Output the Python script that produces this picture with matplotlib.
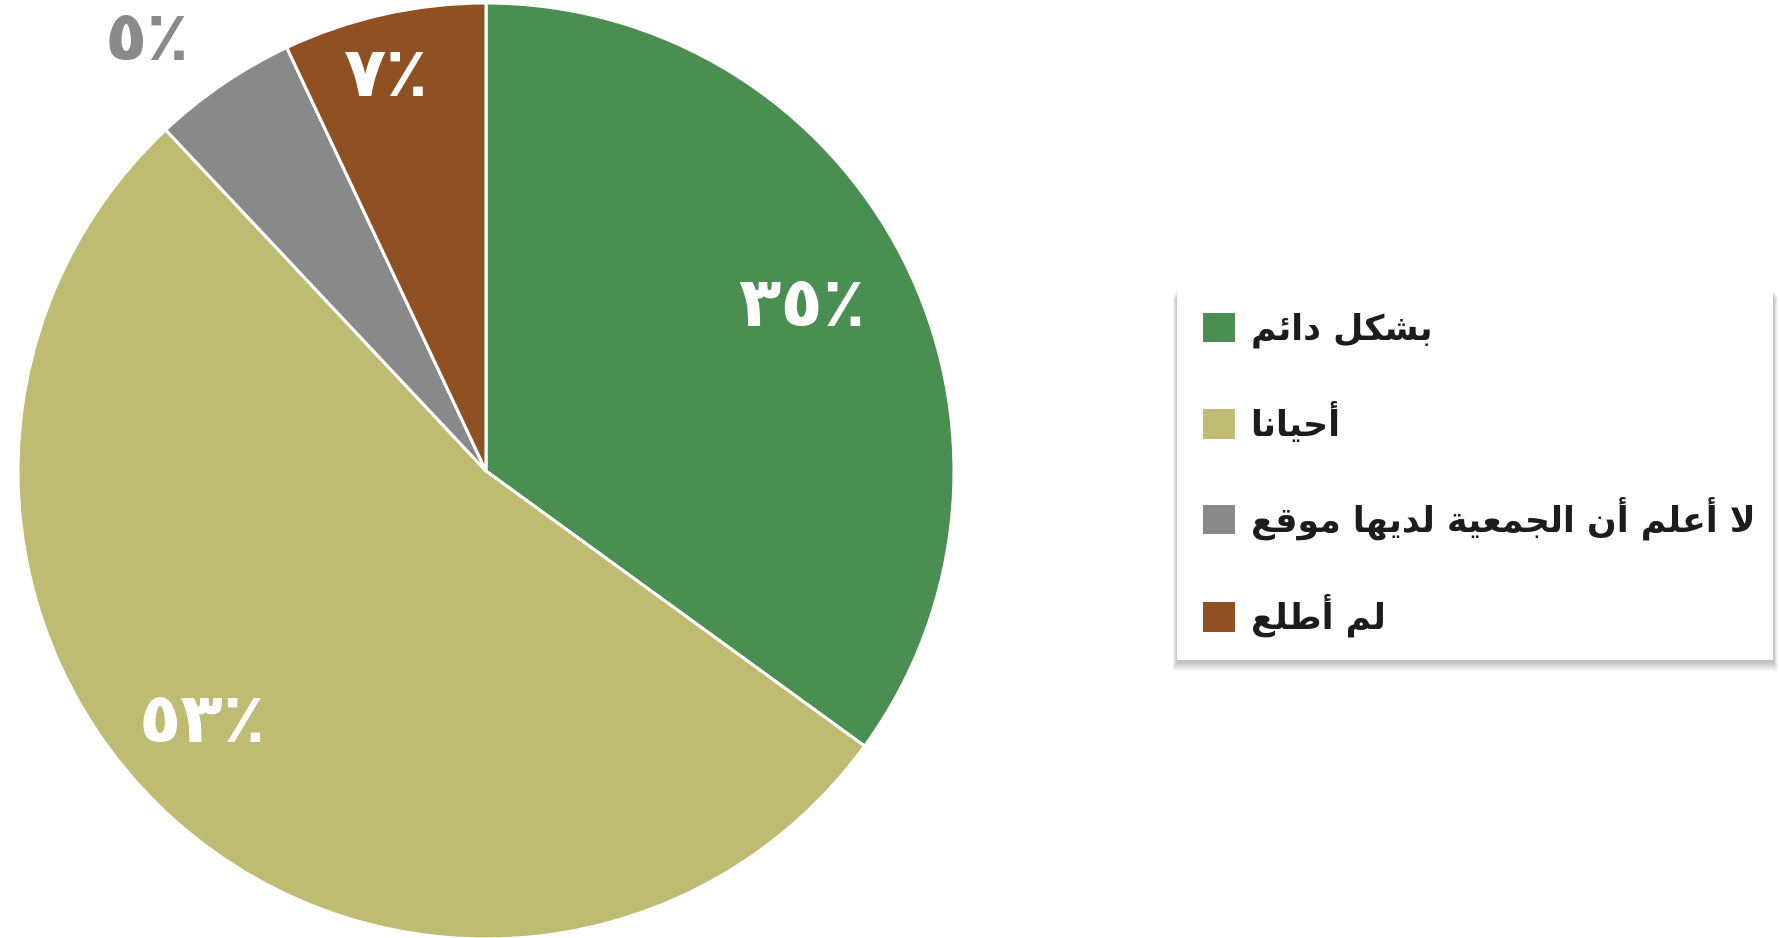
import numpy as np
import matplotlib
matplotlib.use("Agg")
import matplotlib.pyplot as plt
from matplotlib.patches import Rectangle
from matplotlib.transforms import IdentityTransform

# ── data ─────────────────────────────────────────────────────────
labels = ["بشكل دائم", "أحيانا", "لا أعلم أن الجمعية لديها موقع", "لم أطلع"]
values = [35, 53, 5, 7]
colors = ["#4a8f51", "#bfbb72", "#898989", "#8f5023"]
pct_colors = ["white", "white", "#8a8a8a", "white"]

# label placement (radius as fraction of pie radius, angle shift in deg)
pct_radius = [0.76, 0.81, 1.17, 0.87]
pct_shift = [0.5, -7.0, 4.0, 1.5]

# ── minimal Arabic shaping (matplotlib has no bidi / joining) ────
DUAL = {'ب': 0xFE8F, 'ت': 0xFE95, 'ج': 0xFE9D, 'ح': 0xFEA1, 'ش': 0xFEB5,
        'ط': 0xFEC1, 'ع': 0xFEC9, 'ق': 0xFED5, 'ك': 0xFED9, 'ل': 0xFEDD,
        'م': 0xFEE1, 'ن': 0xFEE5, 'ه': 0xFEE9, 'ي': 0xFEF1, 'ئ': 0xFE89}
RIGHT = {'ا': 0xFE8D, 'أ': 0xFE83, 'د': 0xFEA9, 'و': 0xFEED, 'ة': 0xFE93}
LAM_ALEF = {'لا': 0xFEFB, 'لأ': 0xFEF7}


def shape(text):
    toks, i = [], 0
    while i < len(text):
        if text[i:i + 2] in LAM_ALEF:
            toks.append(text[i:i + 2]); i += 2
        else:
            toks.append(text[i]); i += 1
    is_letter = lambda t: t in DUAL or t in RIGHT or t in LAM_ALEF
    out = []
    for k, t in enumerate(toks):
        prev = toks[k - 1] if k > 0 else ''
        nxt = toks[k + 1] if k + 1 < len(toks) else ''
        left = prev in DUAL
        if t in DUAL:
            right = is_letter(nxt)
            off = 3 if (left and right) else 2 if right else 1 if left else 0
            out.append(chr(DUAL[t] + off))
        elif t in RIGHT or t in LAM_ALEF:
            base = RIGHT.get(t) or LAM_ALEF[t]
            out.append(chr(base + (1 if left else 0)))
        else:
            out.append(t)
    return ''.join(reversed(out))


def ar_digits(n):
    return ''.join(chr(0x0660 + int(d)) for d in str(n)) + '٪'


# ── plot ─────────────────────────────────────────────────────────
W, H = 1781, 938
fig = plt.figure(figsize=(W / 100, H / 100), dpi=100)
fig.patch.set_facecolor("white")

cx, cy, R = 486, 471, 468   # pie centre / radius in pixels
ax = fig.add_axes([(cx - R) / W, (H - cy - R) / H, 2 * R / W, 2 * R / H])
ax.set_aspect("equal")
ax.axis("off")

wedges, _, autotexts = ax.pie(
    values, colors=colors, startangle=90, counterclock=False,
    autopct=lambda p: ar_digits(int(round(p))),
    wedgeprops=dict(edgecolor="white", linewidth=2.2),
    textprops=dict(fontsize=50, fontweight="bold", family="DejaVu Sans"),
)
ax.set_xlim(-1, 1)
ax.set_ylim(-1, 1)

for w, t, c, r, s in zip(wedges, autotexts, pct_colors, pct_radius, pct_shift):
    ang = np.radians((w.theta1 + w.theta2) / 2 + s)
    t.set_position((r * np.cos(ang), r * np.sin(ang)))
    t.set_color(c)
    t.set_ha("center"); t.set_va("center")
    t.set_clip_on(False)

# legend box with soft drop shadow (pixel coords)
bx0, by0, bw, bh = 1177, H - 660, 596, 373
for k in range(9, 0, -1):
    fig.patches.append(Rectangle(
        (bx0 - 0.5 * k, by0 - 2 - k), bw + k, bh,
        transform=IdentityTransform(), facecolor="black",
        edgecolor="none", alpha=0.028, zorder=0))
fig.patches.append(Rectangle((bx0, by0), bw, bh, transform=IdentityTransform(),
                             facecolor="white", edgecolor="none", zorder=0.5))

leg = fig.legend(
    wedges, [shape(l) for l in labels],
    loc="center left", bbox_to_anchor=(1203 / W, 1 - 475 / H),
    prop=dict(family="DejaVu Sans", weight="bold", size=25),
    frameon=False, handlelength=0.92, handleheight=0.92, handletextpad=0.45,
    borderpad=0, labelspacing=1.55, borderaxespad=0,
    labelcolor="#1c1c1c",
)
for h in leg.legend_handles:
    h.set_edgecolor("none")

fig.savefig("out.png", dpi=100, facecolor="white")
